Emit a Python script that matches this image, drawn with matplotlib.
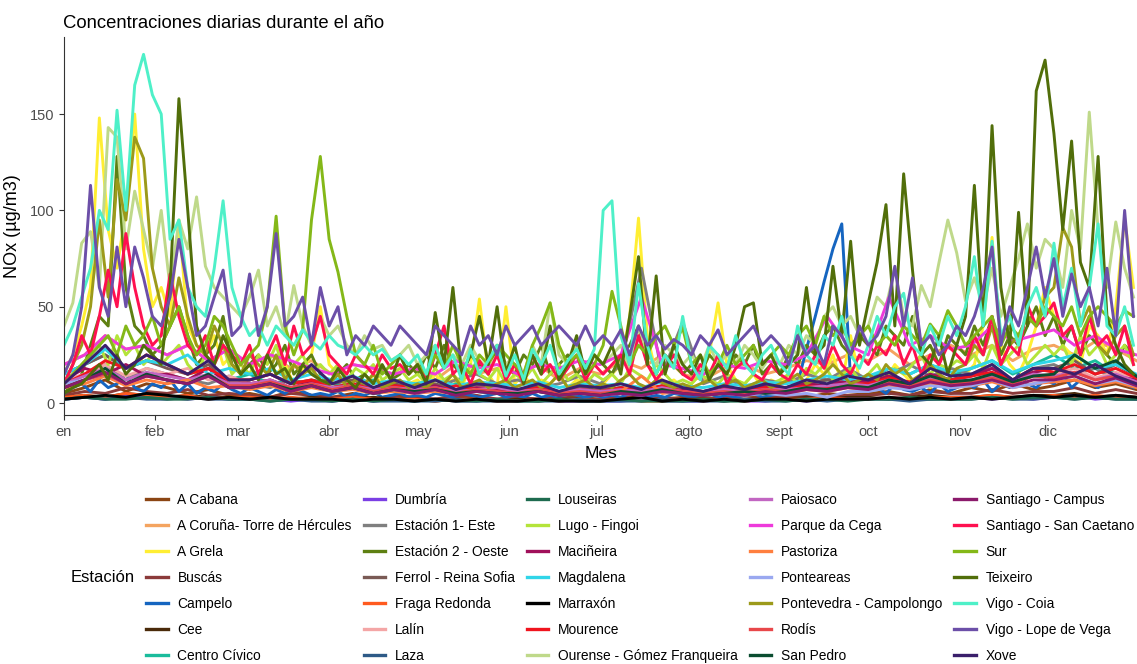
import pandas as pd
import matplotlib.pyplot as plt
from matplotlib.lines import Line2D

plt.rcParams['font.family'] = ['Liberation Sans', 'DejaVu Sans']

meses = ['en', 'feb', 'mar', 'abr', 'may', 'jun', 'jul', 'agto', 'sept', 'oct', 'nov', 'dic']

# main stations: one value every 3 days (Jan 1 .. Dec 30)
a_grela = [15, 25, 40, 60, 148, 90, 70, 100, 150, 80, 50,
           60, 45, 95, 40, 30, 25, 35, 20, 25,
           15, 20, 12, 25, 15, 20, 10, 18, 25, 50,
           20, 15, 10, 12, 8, 15, 10, 12, 8, 10,
           12, 8, 15, 10, 12, 8, 20, 54, 15, 8, 50,
           10, 15, 8, 12, 10, 15, 8, 12, 10, 8,
           10, 15, 20, 45, 96, 35, 15, 10, 12, 8,
           10, 15, 25, 52, 20, 12, 10, 15, 8, 12,
           10, 15, 8, 12, 20, 15, 25, 10, 35, 12,
           15, 10, 12, 20, 15, 10, 12, 8, 15, 10, 12,
           15, 20, 40, 86, 30, 20, 15, 25, 40, 60,
           45, 30, 25, 20, 40, 35, 25, 50, 96, 60]
campelo = [5, 8, 10, 6, 12, 8, 10, 15, 8, 6, 10,
           8, 12, 6, 10, 5, 8, 6, 10, 7,
           5, 8, 6, 4, 7, 5, 8, 6, 4, 5,
           4, 6, 3, 5, 4, 6, 3, 4, 5, 3,
           4, 3, 5, 4, 3, 5, 4, 3, 4, 5, 3,
           4, 3, 5, 3, 4, 3, 5, 4, 3, 4,
           3, 4, 3, 5, 4, 3, 4, 3, 5, 4,
           3, 4, 5, 3, 4, 3, 4, 5, 3, 4,
           5, 6, 10, 28, 45, 63, 80, 93, 12, 8,
           6, 8, 5, 10, 7, 6, 8, 5, 10, 6, 8,
           10, 8, 12, 6, 10, 8, 15, 10, 8, 12,
           10, 15, 8, 12, 10, 8, 12, 15, 10, 8]
estacion_2 = [5, 10, 15, 30, 45, 40, 128, 60, 40, 35, 25,
              30, 40, 50, 35, 20, 25, 30, 45, 20,
              15, 20, 25, 15, 20, 30, 15, 20, 25, 15,
              10, 15, 20, 12, 15, 10, 18, 12, 15, 20,
              15, 25, 18, 30, 20, 15, 25, 20, 15, 30, 20,
              15, 25, 20, 30, 15, 20, 25, 15, 20, 25,
              20, 15, 25, 30, 40, 20, 15, 25, 20, 15,
              20, 15, 25, 20, 15, 25, 20, 30, 15, 20,
              15, 25, 20, 30, 25, 35, 40, 30, 25, 35,
              30, 25, 40, 35, 30, 45, 25, 30, 20, 35, 30,
              25, 40, 30, 45, 25, 35, 30, 40, 50, 35,
              45, 30, 40, 25, 35, 30, 25, 20, 30, 25]
lugo = [10, 15, 20, 25, 30, 20, 35, 25, 30, 20, 25,
        20, 25, 30, 20, 15, 25, 20, 30, 15,
        20, 15, 25, 20, 30, 15, 20, 25, 15, 20,
        15, 20, 12, 18, 15, 20, 12, 15, 18, 12,
        15, 10, 18, 12, 15, 10, 20, 15, 12, 18, 10,
        15, 12, 18, 10, 15, 20, 12, 15, 10, 15,
        12, 15, 10, 18, 15, 12, 20, 15, 10, 12,
        10, 15, 12, 10, 15, 12, 10, 15, 12, 10,
        12, 15, 10, 18, 15, 20, 12, 15, 18, 12,
        15, 20, 12, 18, 15, 20, 25, 15, 20, 18, 22,
        20, 25, 18, 30, 20, 25, 30, 20, 25, 30,
        25, 30, 20, 35, 25, 30, 20, 25, 30, 20]
ourense = [40, 52, 83, 89, 60, 143, 138, 80, 110, 90, 70,
           100, 60, 95, 80, 107, 71, 60, 55, 50,
           45, 55, 69, 40, 50, 35, 61, 40, 30, 45,
           35, 40, 30, 25, 35, 28, 30, 22, 25, 30,
           20, 25, 30, 18, 25, 20, 30, 22, 18, 25, 20,
           25, 15, 30, 20, 52, 25, 20, 30, 18, 25,
           20, 25, 30, 18, 40, 25, 20, 30, 25, 20,
           25, 18, 30, 20, 25, 20, 30, 25, 18, 25,
           20, 30, 25, 35, 30, 45, 50, 40, 45, 35,
           40, 55, 50, 70, 45, 40, 61, 50, 73, 95, 78,
           53, 65, 50, 70, 45, 60, 75, 93, 70, 85,
           80, 60, 100, 80, 151, 90, 60, 94, 70, 55]
campolongo = [10, 20, 30, 50, 95, 55, 116, 95, 138, 127, 70,
              50, 40, 65, 45, 30, 25, 40, 30, 20,
              15, 25, 20, 15, 25, 12, 20, 15, 18, 12,
              10, 15, 8, 12, 10, 15, 8, 10, 12, 8,
              10, 8, 12, 10, 15, 8, 10, 12, 8, 10, 12,
              8, 10, 12, 8, 10, 15, 8, 10, 12, 8,
              10, 8, 12, 15, 10, 8, 12, 10, 8, 10,
              8, 10, 12, 8, 10, 12, 8, 10, 12, 8,
              10, 12, 15, 10, 12, 15, 20, 15, 10, 12,
              15, 12, 20, 15, 18, 12, 15, 20, 15, 12, 18,
              20, 30, 25, 40, 20, 30, 35, 45, 40, 55,
              60, 91, 81, 40, 50, 30, 25, 35, 40, 25]
san_caetano = [10, 20, 35, 25, 45, 69, 50, 88, 60, 40, 30,
               35, 67, 45, 30, 25, 35, 20, 30, 25,
               20, 30, 15, 25, 35, 20, 40, 25, 30, 45,
               25, 20, 15, 25, 20, 15, 25, 18, 20, 15,
               20, 12, 25, 40, 15, 20, 10, 22, 15, 25, 12,
               20, 10, 25, 15, 20, 12, 18, 25, 12, 20,
               15, 20, 25, 15, 35, 20, 12, 18, 25, 15,
               12, 20, 15, 25, 10, 18, 22, 15, 12, 20,
               15, 12, 20, 15, 25, 18, 30, 20, 15, 25,
               20, 30, 25, 35, 20, 30, 15, 25, 20, 30, 25,
               20, 35, 25, 45, 20, 30, 25, 51, 40, 45,
               52, 35, 40, 25, 45, 30, 35, 25, 40, 20]
sur = [10, 15, 20, 25, 30, 35, 25, 40, 30, 35, 45,
       30, 40, 50, 35, 25, 30, 45, 40, 30,
       20, 25, 30, 50, 97, 40, 25, 38, 95, 128,
       85, 68, 45, 25, 20, 30, 15, 20, 25, 15,
       20, 15, 25, 18, 30, 20, 15, 25, 20, 30, 25,
       20, 15, 30, 40, 52, 30, 20, 25, 15, 20,
       30, 58, 40, 20, 30, 25, 35, 40, 30, 39,
       20, 25, 15, 20, 30, 20, 25, 30, 20, 25,
       30, 25, 35, 40, 30, 45, 35, 40, 30, 35,
       40, 30, 35, 30, 40, 35, 30, 41, 35, 48, 40,
       30, 35, 40, 45, 30, 40, 35, 45, 40, 50,
       45, 40, 50, 35, 45, 50, 45, 40, 48, 45]
teixeiro = [5, 8, 10, 15, 20, 12, 25, 15, 20, 30, 25,
            20, 60, 158, 100, 40, 25, 20, 35, 25,
            15, 20, 12, 25, 15, 18, 10, 20, 15, 12,
            10, 18, 12, 8, 15, 10, 20, 12, 25, 15,
            20, 10, 47, 20, 60, 15, 25, 45, 20, 50, 15,
            30, 10, 25, 15, 40, 12, 20, 35, 15, 25,
            20, 30, 15, 45, 76, 20, 66, 15, 30, 20,
            15, 25, 12, 20, 15, 30, 50, 52, 20, 25,
            15, 20, 25, 60, 25, 30, 71, 35, 84, 30,
            52, 73, 103, 40, 119, 69, 25, 20, 35, 15, 30,
            45, 113, 40, 144, 60, 30, 99, 40, 162, 178,
            140, 90, 136, 73, 60, 128, 45, 30, 20, 15]
vigo_coia = [30, 40, 55, 70, 100, 90, 152, 100, 165, 181, 160,
             150, 85, 95, 60, 50, 45, 70, 105, 60,
             45, 35, 40, 30, 40, 35, 30, 38, 32, 28,
             35, 30, 28, 25, 30, 25, 28, 22, 25, 20,
             25, 15, 30, 18, 25, 12, 28, 15, 22, 30, 14,
             25, 12, 28, 20, 30, 15, 22, 28, 18, 28,
             100, 105, 35, 20, 62, 30, 15, 25, 18, 45,
             20, 12, 30, 25, 18, 35, 20, 15, 25, 30,
             20, 15, 40, 25, 20, 35, 30, 45, 25, 18,
             30, 45, 35, 50, 57, 30, 25, 40, 30, 45, 35,
             50, 76, 40, 84, 35, 45, 30, 50, 60, 45,
             83, 50, 70, 40, 60, 93, 40, 35, 50, 30]
lope_de_vega = [15, 25, 50, 113, 60, 45, 81, 50, 81, 65, 45,
                40, 55, 85, 60, 35, 40, 55, 69, 35,
                40, 67, 35, 50, 88, 40, 45, 55, 30, 60,
                40, 50, 25, 35, 30, 40, 35, 30, 40, 35,
                30, 25, 40, 35, 30, 25, 40, 30, 35, 25, 40,
                30, 35, 40, 30, 35, 40, 35, 30, 40, 30,
                35, 30, 38, 25, 40, 30, 35, 28, 33, 30,
                25, 35, 30, 38, 25, 30, 35, 40, 30, 35,
                30, 20, 35, 25, 30, 20, 40, 35, 25, 40,
                30, 35, 45, 71, 40, 65, 30, 35, 25, 30, 40,
                35, 45, 60, 81, 30, 50, 40, 60, 81, 55,
                75, 45, 67, 50, 60, 40, 70, 35, 100, 45]

# remaining stations: one value per week
a_cabana = [5, 8, 12, 6, 10, 8, 5, 7, 4, 5, 3, 6, 4, 3, 5, 2, 4, 3, 2, 4, 3, 2, 3, 2, 4, 3,
            2, 3, 4, 2, 3, 3, 2, 4, 3, 4, 3, 5, 4, 5, 6, 4, 7, 5, 8, 6, 10, 7, 9, 12, 8, 10, 7]
a_coruna = [20, 25, 35, 28, 30, 25, 30, 22, 28, 20, 25, 18, 22, 15, 20, 18, 15, 18, 12, 20, 15, 18,
            15, 20, 12, 18, 15, 22, 18, 25, 15, 12, 18, 20, 15, 18, 22, 20, 25, 22, 28, 20, 25, 30,
            25, 30, 22, 28, 30, 25, 32, 28, 22]
buscas = [4, 6, 5, 8, 6, 5, 7, 4, 5, 4, 3, 5, 4, 3, 4, 2, 3, 3, 2, 3, 4, 2, 3, 2, 3, 2,
          2, 3, 2, 3, 2, 2, 3, 2, 3, 3, 4, 3, 4, 4, 5, 4, 6, 5, 5, 7, 5, 6, 6, 8, 5, 7, 5]
cee = [3, 4, 3, 5, 4, 3, 4, 3, 3, 2, 3, 2, 3, 2, 2, 3, 2, 2, 1, 2, 2, 1, 2, 1, 2, 2,
       1, 2, 2, 1, 2, 2, 1, 2, 2, 2, 3, 2, 3, 3, 2, 3, 4, 3, 3, 4, 3, 4, 4, 5, 3, 4, 3]
centro_civico = [15, 20, 25, 18, 22, 20, 15, 18, 12, 15, 10, 12, 8, 10, 8, 12, 6, 8, 6, 10, 7, 8,
                 6, 8, 5, 7, 6, 8, 5, 7, 6, 5, 7, 6, 8, 8, 10, 12, 15, 12, 18, 15, 20, 14,
                 18, 22, 15, 20, 25, 18, 22, 15, 12]
dumbria = [2, 3, 2, 4, 3, 3, 2, 3, 2, 2, 2, 1, 2, 1, 2, 1, 2, 1, 2, 1, 1, 2, 1, 2, 1, 1,
           1, 1, 2, 1, 1, 1, 2, 1, 1, 2, 1, 2, 2, 2, 3, 2, 2, 3, 3, 2, 3, 2, 3, 4, 2, 3, 2]
estacion_1 = [10, 15, 20, 12, 18, 15, 12, 10, 14, 10, 8, 12, 10, 8, 10, 6, 9, 10, 8, 12, 15, 10,
              12, 8, 10, 14, 10, 20, 70, 15, 42, 10, 14, 8, 12, 10, 15, 12, 18, 12, 15, 20, 14,
              18, 15, 20, 12, 18, 20, 15, 18, 12, 10]
ferrol = [15, 20, 25, 18, 22, 18, 15, 20, 12, 12, 15, 10, 12, 10, 12, 8, 10, 8, 10, 7, 9, 8,
          7, 9, 6, 8, 7, 8, 6, 9, 7, 6, 8, 7, 9, 8, 10, 12, 10, 12, 15, 10, 14, 12,
          15, 18, 12, 16, 18, 22, 15, 20, 14]
fraga_redonda = [3, 4, 3, 5, 4, 3, 4, 2, 3, 3, 2, 3, 2, 2, 3, 2, 2, 2, 1, 2, 2, 1, 1, 2, 1, 2,
                 1, 2, 1, 1, 2, 1, 2, 1, 2, 2, 2, 3, 2, 2, 3, 2, 3, 3, 3, 4, 3, 3, 4, 3, 4, 3, 3]
lalin = [12, 15, 20, 14, 18, 15, 18, 12, 14, 10, 12, 8, 10, 8, 10, 7, 8, 7, 8, 6, 8, 7,
         6, 7, 5, 7, 6, 7, 5, 6, 7, 5, 7, 6, 8, 7, 9, 8, 10, 10, 12, 9, 13, 11,
         12, 15, 11, 14, 15, 18, 13, 16, 12]
laza = [2, 3, 2, 3, 2, 2, 3, 2, 2, 2, 1, 2, 1, 1, 2, 1, 1, 1, 1, 2, 1, 1, 1, 1, 1, 2,
        1, 1, 1, 2, 1, 1, 1, 2, 1, 1, 2, 1, 2, 2, 2, 1, 2, 2, 2, 3, 2, 2, 3, 2, 3, 2, 2]
louseiras = [2, 3, 2, 2, 3, 2, 2, 3, 2, 2, 1, 2, 2, 1, 2, 1, 2, 1, 2, 1, 1, 2, 1, 1, 2, 1,
             1, 2, 1, 1, 1, 2, 1, 1, 2, 1, 2, 2, 1, 2, 2, 3, 2, 2, 2, 3, 2, 3, 3, 2, 3, 2, 2]
macineira = [12, 18, 15, 20, 14, 15, 12, 18, 10, 10, 12, 8, 11, 8, 10, 7, 9, 7, 9, 6, 8, 7,
             6, 8, 5, 7, 6, 7, 8, 6, 7, 6, 8, 7, 9, 8, 10, 9, 12, 11, 14, 10, 15, 12,
             14, 18, 12, 16, 18, 15, 20, 14, 12]
magdalena = [15, 20, 28, 18, 22, 20, 25, 15, 18, 15, 18, 12, 15, 12, 14, 10, 12, 10, 12, 9, 11, 10,
             9, 11, 8, 10, 9, 10, 8, 11, 9, 8, 10, 9, 11, 10, 12, 14, 12, 14, 18, 15, 20, 16,
             18, 22, 16, 20, 22, 25, 18, 20, 15]
marraxon = [2, 3, 4, 3, 5, 4, 3, 2, 3, 2, 3, 2, 2, 2, 1, 2, 2, 1, 2, 1, 2, 1, 1, 2, 1, 1,
            1, 2, 3, 1, 2, 1, 2, 1, 2, 2, 1, 2, 2, 2, 3, 2, 3, 2, 3, 2, 3, 4, 3, 4, 3, 4, 3]
mourence = [10, 15, 22, 18, 25, 20, 15, 18, 12, 12, 15, 10, 12, 8, 10, 7, 9, 8, 6, 9, 7, 8,
            6, 8, 5, 7, 6, 8, 7, 9, 6, 5, 7, 6, 8, 7, 9, 8, 10, 10, 13, 11, 14, 12,
            14, 16, 12, 18, 16, 20, 15, 18, 13]
paiosaco = [10, 14, 18, 12, 16, 14, 12, 15, 10, 10, 12, 8, 10, 8, 9, 7, 8, 7, 8, 6, 7, 8,
            6, 7, 5, 7, 6, 7, 6, 8, 6, 5, 7, 6, 7, 7, 8, 9, 10, 9, 12, 10, 13, 11,
            12, 14, 11, 15, 14, 16, 12, 15, 11]
parque_cega = [20, 25, 35, 28, 30, 25, 30, 22, 28, 20, 25, 22, 18, 15, 20, 18, 15, 18, 15, 22, 18, 20,
               15, 20, 18, 22, 20, 25, 55, 20, 18, 15, 20, 18, 22, 20, 25, 45, 30, 25, 55, 30, 35, 28,
               30, 40, 32, 35, 38, 30, 35, 28, 25]
pastoriza = [8, 10, 14, 9, 12, 10, 12, 8, 9, 7, 9, 6, 8, 6, 7, 5, 6, 5, 6, 5, 7, 5,
             5, 6, 4, 5, 5, 6, 14, 5, 6, 4, 5, 6, 5, 5, 7, 6, 8, 7, 9, 8, 10, 8,
             9, 11, 8, 10, 11, 12, 9, 11, 8]
ponteareas = [10, 12, 15, 10, 14, 12, 10, 14, 8, 8, 10, 7, 9, 6, 8, 5, 7, 5, 7, 5, 6, 5,
              5, 6, 4, 5, 4, 5, 4, 6, 5, 4, 5, 4, 5, 4, 5, 3, 6, 6, 8, 7, 9, 8,
              9, 12, 8, 10, 12, 14, 10, 12, 9]
rodis = [8, 12, 15, 10, 14, 12, 10, 14, 9, 9, 11, 8, 10, 7, 9, 6, 8, 6, 8, 5, 7, 6,
         5, 7, 5, 6, 5, 6, 5, 7, 6, 5, 6, 5, 7, 6, 8, 7, 9, 8, 11, 9, 12, 10,
         11, 13, 10, 14, 13, 16, 12, 14, 10]
san_pedro = [8, 12, 18, 10, 15, 12, 10, 15, 8, 8, 10, 7, 9, 6, 8, 5, 7, 6, 7, 5, 6, 5,
             5, 6, 4, 5, 4, 6, 5, 7, 5, 4, 5, 6, 5, 6, 8, 7, 9, 8, 12, 10, 14, 11,
             12, 15, 11, 14, 15, 25, 18, 22, 14]
santiago_campus = [8, 12, 16, 10, 14, 12, 10, 14, 8, 8, 10, 6, 9, 6, 8, 5, 7, 5, 7, 4, 6, 5,
                   4, 6, 4, 5, 4, 5, 4, 6, 5, 4, 5, 4, 6, 5, 7, 6, 8, 7, 10, 8, 11, 9,
                   10, 12, 9, 12, 12, 14, 10, 13, 9]
xove = [10, 20, 30, 18, 25, 20, 15, 22, 12, 12, 15, 10, 20, 10, 14, 8, 12, 8, 12, 7, 10, 9,
        7, 10, 6, 9, 8, 10, 7, 12, 8, 6, 9, 7, 10, 8, 12, 10, 14, 12, 16, 10, 18, 14,
        15, 20, 12, 18, 18, 15, 20, 14, 10]

estaciones = ['A Cabana', 'A Coruña- Torre de Hércules', 'A Grela', 'Buscás', 'Campelo', 'Cee',
              'Centro Cívico', 'Dumbría', 'Estación 1- Este', 'Estación 2 - Oeste',
              'Ferrol - Reina Sofia', 'Fraga Redonda', 'Lalín', 'Laza', 'Louseiras',
              'Lugo - Fingoi', 'Maciñeira', 'Magdalena', 'Marraxón', 'Mourence',
              'Ourense - Gómez Franqueira', 'Paiosaco', 'Parque da Cega', 'Pastoriza',
              'Ponteareas', 'Pontevedra - Campolongo', 'Rodís', 'San Pedro',
              'Santiago - Campus', 'Santiago - San Caetano', 'Sur', 'Teixeiro',
              'Vigo - Coia', 'Vigo - Lope de Vega', 'Xove']
valores = [a_cabana, a_coruna, a_grela, buscas, campelo, cee, centro_civico, dumbria,
           estacion_1, estacion_2, ferrol, fraga_redonda, lalin, laza, louseiras, lugo,
           macineira, magdalena, marraxon, mourence, ourense, paiosaco, parque_cega,
           pastoriza, ponteareas, campolongo, rodis, san_pedro, santiago_campus,
           san_caetano, sur, teixeiro, vigo_coia, lope_de_vega, xove]
colores = ['#8B4513', '#F4A460', '#FFEE33', '#8B3A3A', '#1565C0', '#4A2A0A', '#1ABC9C',
           '#7B3FE4', '#7F7F7F', '#5E8012', '#7A5A55', '#FF5A1F', '#F4A6A6', '#2E5A87',
           '#1E6B4F', '#B4E43A', '#A0105A', '#30D5E8', '#000000', '#F0141E', '#BFD98A',
           '#C266C2', '#EE3ADB', '#FF7F3F', '#9AA8F0', '#9C9A1A', '#E8474A', '#0B4D30',
           '#8B1A6B', '#FF1050', '#84B818', '#516E0A', '#4EF0C8', '#6C4FA8', '#3A1F6B']

inicio = pd.Timestamp('2019-01-01')

fig = plt.figure(figsize=(11.37, 6.64), dpi=100)
ax = fig.add_axes([64 / 1137, 249 / 664, 1073 / 1137, 378 / 664])

for nombre, serie, color in zip(estaciones, valores, colores):
    paso = 3 if len(serie) > 60 else 7
    fechas = pd.date_range(inicio, periods=len(serie), freq=f'{paso}D')
    ax.plot(fechas, serie, color=color, lw=2.1, solid_joinstyle='round', label=nombre)

ax.set_xlim(inicio, inicio + pd.Timedelta(days=364.2))
ax.set_ylim(-6.2, 190)
ax.set_xticks(pd.date_range(inicio, periods=12, freq='MS'))
ax.set_xticklabels(meses)
ax.set_yticks([0, 50, 100, 150])
for lado in ['top', 'right']:
    ax.spines[lado].set_visible(False)
for lado in ['left', 'bottom']:
    ax.spines[lado].set_color('#333333')
    ax.spines[lado].set_linewidth(0.8)
ax.tick_params(colors='#333333', labelcolor='#4D4D4D', labelsize=10.5, length=3.5, width=0.8)
ax.set_xlabel('Mes', fontsize=12.5, labelpad=5)
ax.set_ylabel('NOx (µg/m3)', fontsize=13, labelpad=6)

fig.text(63 / 1137, 1 - 28 / 664, 'Concentraciones diarias durante el año', fontsize=13.3,
         va='baseline', ha='left')

manejadores = [Line2D([], [], color=c, lw=2.4) for c in colores]
fig.legend(manejadores, estaciones, ncol=5, loc='upper left',
           bbox_to_anchor=(146 / 1137, 1 - 493 / 664), frameon=False, fontsize=9.9,
           handlelength=1.57, handletextpad=0.72, columnspacing=0.85, labelspacing=0.87,
           borderpad=0, borderaxespad=0)
fig.text(71 / 1137, 1 - 578 / 664, 'Estación', fontsize=12, va='center', ha='left')

fig.savefig('out.png', dpi=100)
